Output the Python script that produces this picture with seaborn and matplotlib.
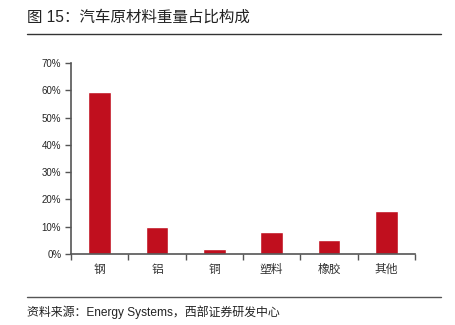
import matplotlib
matplotlib.use("Agg")
import matplotlib.pyplot as plt
import seaborn as sns
import pandas as pd
from matplotlib.lines import Line2D

categories = ["钢", "铝", "铜", "塑料", "橡胶", "其他"]
values = [0.595, 0.10, 0.018, 0.082, 0.05, 0.157]
yticks = [0, 0.1, 0.2, 0.3, 0.4, 0.5, 0.6, 0.7]
ytick_labels = ["0%", "10%", "20%", "30%", "40%", "50%", "60%", "70%"]
title = "图 15：汽车原材料重量占比构成"
source = "资料来源：Energy Systems，西部证券研发中心"

sns.set_style("white")
plt.rcParams['font.family'] = ['Liberation Sans', 'Noto Sans CJK SC', 'DejaVu Sans']

df = pd.DataFrame({"cat": categories, "val": values})

fig = plt.figure(figsize=(4.56, 3.25), dpi=100)
ax = fig.add_axes([71/456, 1-254/325, (415-71)/456, (254-63)/325])
sns.barplot(data=df, x="cat", y="val", color="#C00F1E", width=0.4, ax=ax, saturation=1)

ax.set_xlim(-0.5, len(categories) - 0.5)
ax.set_ylim(0, 0.7)
ax.set_yticks(yticks)
ax.set_yticklabels(ytick_labels, fontsize=7)
ax.set_xticks([i - 0.5 for i in range(len(categories) + 1)])
ax.set_xticklabels([])
ax.set_xticks(range(len(categories)), minor=True)
ax.set_xticklabels(categories, minor=True, fontsize=8.5, color="#333333")
ax.tick_params(axis='x', which='major', direction='out', length=4, width=1, color="#555555", bottom=True)
ax.tick_params(axis='x', which='minor', length=0, pad=7)
ax.tick_params(axis='y', direction='out', length=4, width=1, color="#555555", left=True, pad=3)
ax.set_xlabel("")
ax.set_ylabel("")
for s in ["top", "right"]:
    ax.spines[s].set_visible(False)
for s in ["left", "bottom"]:
    ax.spines[s].set_color("#555555")
    ax.spines[s].set_linewidth(1.2)

fig.text(27/456, 1-17/325, title, fontsize=11.2, va="center", ha="left", color="#222222")
fig.add_artist(Line2D([27/456, 441/456], [1-34/325, 1-34/325], color="#333333", linewidth=1))
fig.add_artist(Line2D([27/456, 441/456], [1-297/325, 1-297/325], color="#555555", linewidth=1))
fig.text(27/456, 1-312/325, source, fontsize=8.6, va="center", ha="left", color="#222222")

fig.savefig("out.png", dpi=100)
